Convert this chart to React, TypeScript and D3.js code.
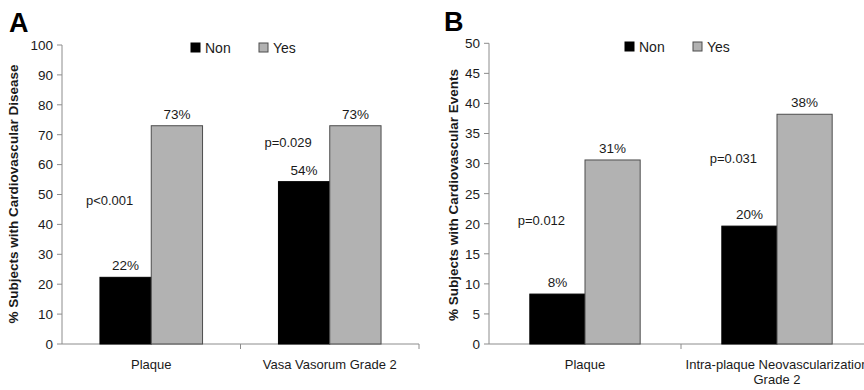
import React, { useEffect, useRef } from 'react';
import * as d3 from 'd3';

// series
const seriesNames = ['Non', 'Yes'];
const seriesColors = ['#000000', '#b2b2b2'];

// panel A
const categoriesA = [['Plaque'], ['Vasa Vasorum Grade 2']];
const nonA = [22.3, 54.3];
const yesA = [73, 73];
const nonLabelsA = ['22%', '54%'];
const yesLabelsA = ['73%', '73%'];
const pTextA = ['p<0.001', 'p=0.029'];
const pLevelA = [48, 67.5];
const yTicksA = d3.range(0, 101, 10);

// panel B
const categoriesB = [['Plaque'], ['Intra-plaque Neovascularization', 'Grade 2']];
const nonB = [8.3, 19.6];
const yesB = [30.6, 38.2];
const nonLabelsB = ['8%', '20%'];
const yesLabelsB = ['31%', '38%'];
const pTextB = ['p=0.012', 'p=0.031'];
const pLevelB = [20.6, 30.9];
const yTicksB = d3.range(0, 51, 5);

const FONT = 'Liberation Sans, Arial, sans-serif';

const drawPanel = (svg, cfg) => {
  const g = svg.append('g');
  const y = d3.scaleLinear().domain([0, cfg.max]).range([cfg.bottom, cfg.top]);
  const x = d3.scaleBand().domain(cfg.categories.map((_, i) => i)).range([cfg.left, cfg.right]);
  const inner = d3.scaleBand().domain(seriesNames).range([0, x.bandwidth()]).paddingInner(0).paddingOuter(0.74);

  // panel letter
  g.append('text')
    .attr('x', cfg.letterX).attr('y', cfg.letterY)
    .attr('font-family', FONT).attr('font-weight', 'bold').attr('font-size', 27)
    .text(cfg.letter);

  // y axis
  g.append('line')
    .attr('x1', cfg.left).attr('x2', cfg.left).attr('y1', y(cfg.max)).attr('y2', cfg.bottom)
    .attr('stroke', '#8c8c8c');
  const yt = g.selectAll('.yt').data(cfg.ticks).enter().append('g');
  yt.append('line')
    .attr('x1', cfg.left - 5).attr('x2', cfg.left).attr('y1', (d) => y(d)).attr('y2', (d) => y(d))
    .attr('stroke', '#8c8c8c');
  yt.append('text')
    .attr('x', cfg.left - 9).attr('y', (d) => y(d)).attr('dy', '0.36em')
    .attr('text-anchor', 'end').attr('font-family', FONT).attr('font-size', 13.5).attr('fill', '#1a1a1a')
    .text((d) => d);

  // y title
  g.append('text')
    .attr('transform', `translate(${cfg.titleX},${cfg.titleY}) rotate(-90)`)
    .attr('text-anchor', 'middle').attr('font-family', FONT).attr('font-weight', 'bold').attr('font-size', 13.5)
    .attr('fill', '#1a1a1a')
    .text(cfg.title);

  // x axis
  g.append('line')
    .attr('x1', cfg.left).attr('x2', cfg.right).attr('y1', cfg.bottom).attr('y2', cfg.bottom)
    .attr('stroke', '#8c8c8c');
  const bounds = cfg.categories.map((_, i) => x(i) + x.bandwidth());
  g.selectAll('.xt').data(bounds).enter().append('line')
    .attr('x1', (d) => d).attr('x2', (d) => d).attr('y1', cfg.bottom).attr('y2', cfg.bottom + 5)
    .attr('stroke', '#8c8c8c');

  cfg.categories.forEach((lines, i) => {
    const t = g.append('text')
      .attr('x', x(i) + x.bandwidth() / 2).attr('y', cfg.bottom + 25)
      .attr('text-anchor', 'middle').attr('font-family', FONT).attr('font-size', 13).attr('fill', '#1a1a1a');
    lines.forEach((l, j) => {
      t.append('tspan').attr('x', x(i) + x.bandwidth() / 2).attr('dy', j === 0 ? 0 : 15).text(l);
    });
  });

  // bars
  const series = [cfg.non, cfg.yes];
  const labels = [cfg.nonLabels, cfg.yesLabels];
  series.forEach((vals, s) => {
    const name = seriesNames[s];
    g.selectAll(`.bar${s}`).data(vals).enter().append('rect')
      .attr('x', (d, i) => x(i) + inner(name))
      .attr('y', (d) => y(d))
      .attr('width', inner.bandwidth())
      .attr('height', (d) => cfg.bottom - y(d))
      .attr('fill', seriesColors[s])
      .attr('stroke', s === 0 ? '#000' : '#4d4d4d')
      .attr('stroke-width', 1);
    g.selectAll(`.lab${s}`).data(vals).enter().append('text')
      .attr('x', (d, i) => x(i) + inner(name) + inner.bandwidth() / 2)
      .attr('y', (d) => y(d) - 7)
      .attr('text-anchor', 'middle').attr('font-family', FONT).attr('font-size', 13.5).attr('fill', '#1a1a1a')
      .text((d, i) => labels[s][i]);
  });

  // p values
  g.selectAll('.pv').data(cfg.pText).enter().append('text')
    .attr('x', (d, i) => x(i) + inner('Non') + inner.bandwidth() / 2 - 16)
    .attr('y', (d, i) => y(cfg.pLevel[i]))
    .attr('dy', '0.36em')
    .attr('text-anchor', 'middle').attr('font-family', FONT).attr('font-size', 13).attr('fill', '#1a1a1a')
    .text((d) => d);

  // legend
  seriesNames.forEach((n, s) => {
    const lx = cfg.legendX + s * 68;
    g.append('rect')
      .attr('x', lx).attr('y', cfg.legendY - 5).attr('width', 9).attr('height', 9)
      .attr('fill', seriesColors[s]).attr('stroke', s === 0 ? '#000' : '#4d4d4d');
    g.append('text')
      .attr('x', lx + 14).attr('y', cfg.legendY).attr('dy', '0.36em')
      .attr('font-family', FONT).attr('font-size', 14).attr('fill', '#1a1a1a')
      .text(n);
  });
};

const App = () => {
  const ref = useRef(null);

  useEffect(() => {
    const svg = d3.select(ref.current);
    svg.selectAll('*').remove();

    drawPanel(svg, {
      letter: 'A', letterX: 9, letterY: 32,
      left: 62, right: 419, top: 45, bottom: 344, max: 100, ticks: yTicksA,
      categories: categoriesA, non: nonA, yes: yesA,
      nonLabels: nonLabelsA, yesLabels: yesLabelsA,
      pText: pTextA, pLevel: pLevelA,
      title: '% Subjects with Cardiovascular Disease', titleX: 18, titleY: 194,
      legendX: 191, legendY: 48,
    });

    drawPanel(svg, {
      letter: 'B', letterX: 444, letterY: 31,
      left: 489, right: 873, top: 43.3, bottom: 344, max: 50, ticks: yTicksB,
      categories: categoriesB, non: nonB, yes: yesB,
      nonLabels: nonLabelsB, yesLabels: yesLabelsB,
      pText: pTextB, pLevel: pLevelB,
      title: '% Subjects with Cardiovascular Events', titleX: 458, titleY: 195,
      legendX: 625, legendY: 47,
    });
  }, []);

  return (
    <svg
      ref={ref}
      width={864}
      height={390}
      style={{ position: 'absolute', left: 0, top: 0, background: '#fff' }}
    />
  );
};

export default App;
